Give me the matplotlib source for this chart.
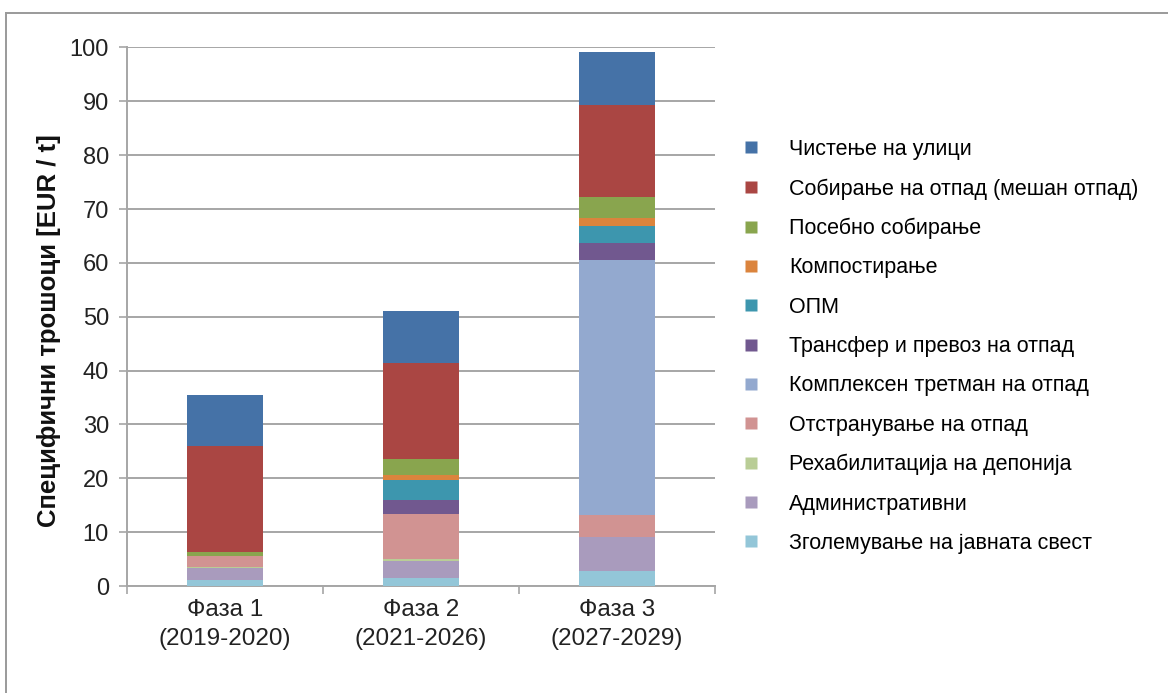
import matplotlib
matplotlib.use('Agg')
import matplotlib.pyplot as plt
from matplotlib.lines import Line2D
import numpy as np

plt.rcParams['font.family'] = ['Liberation Sans', 'DejaVu Sans']

phases = ['Фаза 1\n(2019-2020)', 'Фаза 2\n(2021-2026)', 'Фаза 3\n(2027-2029)']

# stack order, bottom to top
series = [
    'Зголемување на јавната свест',
    'Административни',
    'Рехабилитација на депонија',
    'Отстранување на отпад',
    'Комплексен третман на отпад',
    'Трансфер и превоз на отпад',
    'ОПМ',
    'Компостирање',
    'Посебно собирање',
    'Собирање на отпад (мешан отпад)',
    'Чистење на улици',
]
awareness = [1.1, 1.4, 2.7]
admin = [2.2, 3.2, 6.4]
rehab = [0.3, 0.4, 0.0]
disposal = [2.0, 8.3, 4.1]
complex_tr = [0.0, 0.0, 47.4]
transfer = [0.0, 2.7, 3.0]
opm = [0.0, 3.7, 3.3]
compost = [0.0, 0.9, 1.4]
separate = [0.8, 2.9, 3.9]
collection = [19.6, 17.9, 17.1]
street = [9.4, 9.7, 9.8]
values = [awareness, admin, rehab, disposal, complex_tr, transfer, opm,
          compost, separate, collection, street]

colors = ['#93C6D8', '#A99BBD', '#B9CD96', '#D19392', '#93A9CF', '#71588F',
          '#3D96AE', '#DB843D', '#89A54E', '#AA4643', '#4572A7']

fig = plt.figure(figsize=(11.68, 6.93), dpi=100)
ax = fig.add_axes([0.1087, 0.1544, 0.5035, 0.7771])

x = np.arange(len(phases))
bottom = np.zeros(len(phases))
handles = []
for name, vals, c in zip(series, values, colors):
    ax.bar(x, vals, width=0.39, bottom=bottom, color=c, edgecolor='none', zorder=3)
    bottom += np.array(vals)
    handles.append(Line2D([], [], marker='s', linestyle='none', markersize=9,
                          markerfacecolor=c, markeredgecolor='none', label=name))

ax.set_xlim(-0.5, 2.5)
ax.set_ylim(0, 100)
ax.set_yticks(range(0, 101, 10))
ax.yaxis.grid(True, color='#a6a6a6', linewidth=1.4, zorder=0)
ax.set_axisbelow(True)

ax.set_xticks(x)
ax.set_xticklabels(phases, fontsize=17.5, color='#222222')
for t in ax.get_xticklabels():
    t.set_linespacing(1.45)
ax.set_xticks([-0.5, 0.5, 1.5, 2.5], minor=True)
ax.tick_params(axis='x', which='major', length=0, pad=9)
ax.tick_params(axis='x', which='minor', length=6, color='#a6a6a6', width=1.2)
ax.tick_params(axis='y', length=6, color='#a6a6a6', width=1.2, labelsize=17,
               labelcolor='#222222', pad=7)

for s in ['top', 'right']:
    ax.spines[s].set_visible(False)
for s in ['left', 'bottom']:
    ax.spines[s].set_color('#a6a6a6')
    ax.spines[s].set_linewidth(1.4)

ax.set_ylabel('Специфични трошоци [EUR / t]', fontsize=18.5, fontweight='bold',
              color='#111111')
ax.yaxis.set_label_coords(-0.112, 0.474)

fig.legend(handles=handles[::-1], loc='upper left', bbox_to_anchor=(0.626, 0.815),
           frameon=False, fontsize=15.5, labelspacing=0.85, handletextpad=1.4,
           handlelength=0.8, borderpad=0)

# outer frame (left and top edges visible)
fig.add_artist(Line2D([6 / 1168, 6 / 1168], [0, 1 - 13 / 693], transform=fig.transFigure,
                      color='#9a9a9a', linewidth=1.4))
fig.add_artist(Line2D([6 / 1168, 1], [1 - 13 / 693, 1 - 13 / 693], transform=fig.transFigure,
                      color='#9a9a9a', linewidth=1.4))

fig.savefig('out.png', dpi=100)
